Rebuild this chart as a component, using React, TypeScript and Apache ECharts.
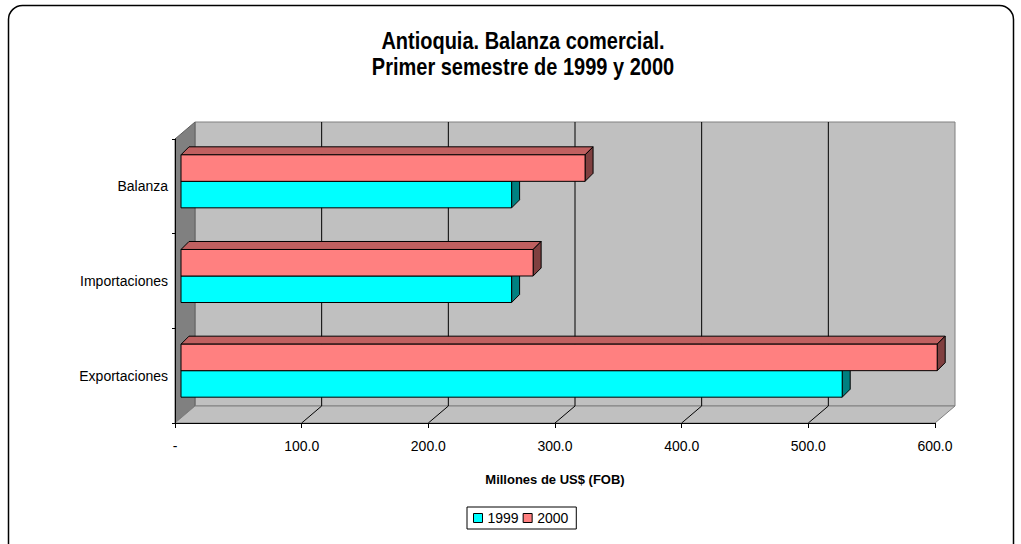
import React, { useEffect, useRef } from "react";
import * as echarts from "echarts";

const categories = ["Exportaciones", "Importaciones", "Balanza"];
const values1999 = [522, 261, 261];
const values2000 = [597, 278, 319];
const xTicks = [0, 100, 200, 300, 400, 500, 600];
const seriesNames = ["1999", "2000"];

const FONT = '"Liberation Sans", Arial, sans-serif';
const DX = 20; // wall depth
const DY = -17;
const OX = 6; // bar offset from front plane
const OY = -5;
const BD = 8; // bar depth

const pal1999 = { front: "#00FFFF", top: "#00C0C0", side: "#008080" };
const pal2000 = { front: "#FF8080", top: "#C06060", side: "#804040" };

function barRenderer(upper: boolean, pal: { front: string; top: string; side: string }) {
  return (params: any, api: any) => {
    const val = api.value(0);
    const cat = api.value(1);
    const p0 = api.coord([0, cat]);
    const p1 = api.coord([val, cat]);
    const band = api.size([0, 1])[1];
    const h = band * 0.28;
    const yT = (upper ? p0[1] - h : p0[1]) + OY;
    const yB = yT + h;
    const x0 = p0[0] + OX;
    const x1 = p1[0] + OX;
    const stroke = { stroke: "#000", lineWidth: 1 };
    return {
      type: "group",
      children: [
        {
          type: "polygon",
          shape: { points: [[x0, yT], [x0 + BD, yT - BD], [x1 + BD, yT - BD], [x1, yT]] },
          style: { fill: pal.top, ...stroke },
        },
        {
          type: "polygon",
          shape: { points: [[x1, yT], [x1 + BD, yT - BD], [x1 + BD, yB - BD], [x1, yB]] },
          style: { fill: pal.side, ...stroke },
        },
        {
          type: "rect",
          shape: { x: x0, y: yT, width: x1 - x0, height: yB - yT },
          style: { fill: pal.front, ...stroke },
        },
      ],
    };
  };
}

function wallsRenderer(params: any, api: any) {
  const cs = params.coordSys;
  const L = cs.x;
  const R = cs.x + cs.width;
  const T = cs.y;
  const B = cs.y + cs.height;
  const children: any[] = [
    {
      type: "rect",
      shape: { x: L + DX, y: T + DY, width: R - L, height: B - T },
      style: { fill: "#C0C0C0", stroke: "#808080", lineWidth: 1 },
    },
    {
      type: "polygon",
      shape: { points: [[L, T], [L + DX, T + DY], [L + DX, B + DY], [L, B]] },
      style: { fill: "#808080", stroke: "#606060", lineWidth: 1 },
    },
    {
      type: "polygon",
      shape: { points: [[L, B], [L + DX, B + DY], [R + DX, B + DY], [R, B]] },
      style: { fill: "#C0C0C0", stroke: "#808080", lineWidth: 1 },
    },
  ];
  xTicks.forEach((v) => {
    if (v === xTicks[0] || v === xTicks[xTicks.length - 1]) return;
    const x = api.coord([v, 0])[0];
    children.push({
      type: "line",
      shape: { x1: x + DX, y1: T + DY, x2: x + DX, y2: B + DY },
      style: { stroke: "#000", lineWidth: 1 },
    });
    children.push({
      type: "line",
      shape: { x1: x, y1: B, x2: x + DX, y2: B + DY },
      style: { stroke: "#000", lineWidth: 1 },
    });
  });
  return { type: "group", children };
}

export default function App() {
  const ref = useRef<HTMLDivElement>(null);
  useEffect(() => {
    if (!ref.current) return;
    const chart = echarts.init(ref.current, undefined, { renderer: "svg" });
    const option: any = {
      animation: false,
      backgroundColor: "#FFFFFF",
      textStyle: { fontFamily: FONT },
      graphic: [
        {
          type: "rect",
          shape: { x: 8.5, y: 5.5, width: 1005, height: 580, r: 14 },
          style: { fill: "none", stroke: "#000", lineWidth: 1.5 },
          z: 100,
        },
        {
          type: "text",
          x: 523,
          y: 41,
          scaleY: 1.2,
          style: {
            text: "Antioquia. Balanza comercial.",
            font: `bold 20px ${FONT}`,
            fill: "#000",
            textAlign: "center",
            textVerticalAlign: "middle",
          },
        },
        {
          type: "text",
          x: 523,
          y: 67,
          scaleY: 1.2,
          style: {
            text: "Primer semestre de 1999 y 2000",
            font: `bold 20px ${FONT}`,
            fill: "#000",
            textAlign: "center",
            textVerticalAlign: "middle",
          },
        },
      ],
      legend: {
        data: seriesNames,
        left: 467,
        top: 507,
        orient: "horizontal",
        padding: [4, 8, 4, 6],
        itemGap: 4,
        itemWidth: 9,
        itemHeight: 9,
        icon: "rect",
        borderColor: "#000",
        borderWidth: 1,
        borderRadius: 0,
        textStyle: { fontSize: 14, color: "#000", fontFamily: FONT },
        itemStyle: { borderColor: "#000", borderWidth: 1 },
      },
      grid: { left: 175, top: 139, width: 760, height: 284, containLabel: false },
      xAxis: {
        type: "value",
        min: 0,
        max: 600,
        interval: 100,
        z: 10,
        splitLine: { show: false },
        axisLine: { show: true, lineStyle: { color: "#000", width: 1 } },
        axisTick: { show: true, length: 5, lineStyle: { color: "#000" } },
        axisLabel: {
          margin: 16,
          fontSize: 14,
          color: "#000",
          fontFamily: FONT,
          formatter: (v: number) => (v === 0 ? "-" : v.toFixed(1)),
        },
        name: "Millones de US$ (FOB)",
        nameLocation: "middle",
        nameGap: 50,
        nameTextStyle: { fontSize: 13, fontWeight: "bold", color: "#000", fontFamily: FONT },
      },
      yAxis: {
        type: "category",
        data: categories,
        z: 10,
        axisLine: { show: true, lineStyle: { color: "#000", width: 1 } },
        axisTick: { show: true, length: 3, lineStyle: { color: "#000" } },
        axisLabel: { margin: 7, fontSize: 14, color: "#000", fontFamily: FONT },
        splitLine: { show: false },
      },
      series: [
        {
          name: "walls",
          type: "custom",
          renderItem: wallsRenderer,
          data: [[0, 0]],
          encode: { x: 0, y: 1 },
          silent: true,
          z: 1,
        },
        {
          name: seriesNames[0],
          type: "custom",
          renderItem: barRenderer(false, pal1999),
          itemStyle: { color: pal1999.front },
          data: values1999.map((v, i) => [v, i]),
          encode: { x: 0, y: 1 },
          z: 2,
        },
        {
          name: seriesNames[1],
          type: "custom",
          renderItem: barRenderer(true, pal2000),
          itemStyle: { color: pal2000.front },
          data: values2000.map((v, i) => [v, i]),
          encode: { x: 0, y: 1 },
          z: 3,
        },
      ],
    };
    chart.setOption(option);
    return () => chart.dispose();
  }, []);
  return (
    <div
      ref={ref}
      style={{ position: "absolute", left: 0, top: 0, width: 1021, height: 544 }}
    />
  );
}
